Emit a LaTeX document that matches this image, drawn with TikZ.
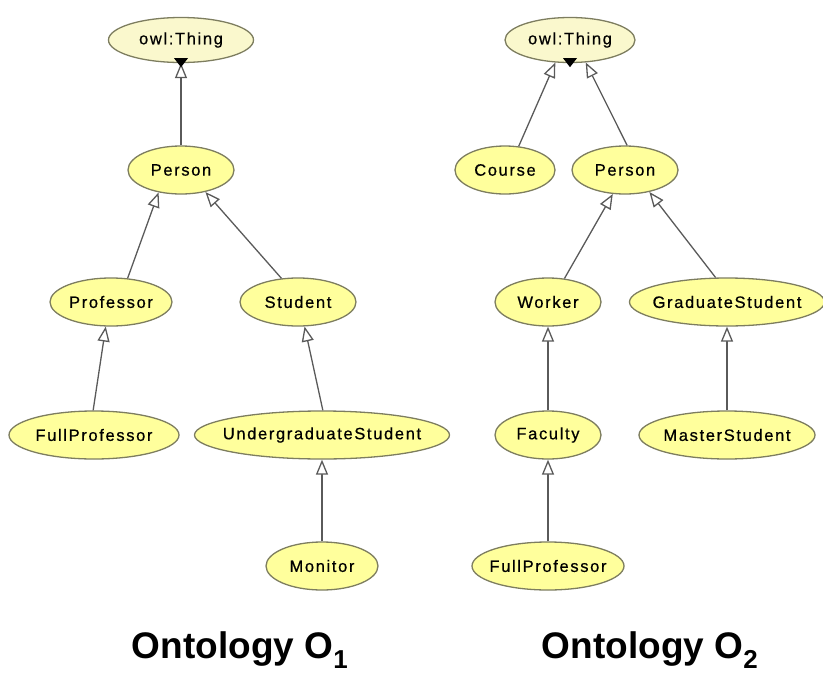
\documentclass[tikz,border=0pt]{standalone}
\usepackage{fontspec}
\setmainfont{Liberation Sans}
\newfontfamily\clsfont[LetterSpace=10, FakeBold=0.6]{Liberation Sans}
\usepackage{tikz}
\usetikzlibrary{shapes.geometric}
\usetikzlibrary{arrows.meta}

\definecolor{clsfill}{RGB}{255,255,156}
\definecolor{topfill}{RGB}{250,248,205}
\definecolor{clsline}{RGB}{125,125,95}
\definecolor{isaline}{RGB}{90,90,90}

\newcommand{\cname}[1]{\makebox[0pt]{#1}}

\tikzset{
    cls/.style={ellipse, draw=clsline, line width=1.3pt, fill=clsfill,
        inner sep=0pt, minimum height=48pt, font=\clsfont\fontsize{16.5}{19}\selectfont},
    top/.style={cls, fill=topfill, minimum height=45pt},
    isa/.style={draw=isaline, line width=1.3pt,
        -{Triangle[open, length=15pt, width=12pt, fill=white]}},
}

\begin{document}
\begin{tikzpicture}[x=1pt, y=-1pt]
    \useasboundingbox (0,0) rectangle (823,675);

    % Ontology 1
    \node[top, minimum width=145pt] (lthing) at (181,40) {\cname{owl:Thing}};
    \node[cls, minimum width=106pt] (lperson) at (181,170) {\cname{Person}};
    \node[cls, minimum width=122pt] (lprof) at (111,302) {\cname{Professor}};
    \node[cls, minimum width=116pt] (lstudent) at (298,302) {\cname{Student}};
    \node[cls, minimum width=170pt] (lfullprof) at (94,435) {\cname{FullProfessor}};
    \node[cls, minimum width=255pt] (lugrad) at (322,435) {\cname{UndergraduateStudent}};
    \node[cls, minimum width=112pt] (lmonitor) at (322,566) {\cname{Monitor}};

    \draw[isa] (lperson.north) -- (lthing.south);
    \draw[isa] (lprof.55) -- (lperson.225);
    \draw[isa] (lstudent.125) -- (lperson.318);
    \draw[isa] (lfullprof.92) -- (lprof.258);
    \draw[isa] (lugrad.88) -- (lstudent.285);
    \draw[isa] (lmonitor.north) -- (lugrad.south);

    % Ontology 2
    \node[top, minimum width=130pt] (rthing) at (570,40) {\cname{owl:Thing}};
    \node[cls, minimum width=100pt] (rcourse) at (505,170) {\cname{Course}};
    \node[cls, minimum width=106pt] (rperson) at (625,170) {\cname{Person}};
    \node[cls, minimum width=106pt] (rworker) at (548,302) {\cname{Worker}};
    \node[cls, minimum width=195pt] (rgrad) at (727,302) {\cname{GraduateStudent}};
    \node[cls, minimum width=106pt] (rfaculty) at (548,435) {\cname{Faculty}};
    \node[cls, minimum width=176pt] (rmaster) at (727,435) {\cname{MasterStudent}};
    \node[cls, minimum width=152pt] (rfullprof) at (548,566) {\cname{FullProfessor}};

    \draw[isa] (rcourse.60) -- (rthing.237);
    \draw[isa] (rperson.85) -- (rthing.305);
    \draw[isa] (rworker.55) -- (rperson.243);
    \draw[isa] (rgrad.115) -- (rperson.318);
    \draw[isa] (rfaculty.north) -- (rworker.south);
    \draw[isa] (rmaster.north) -- (rgrad.south);
    \draw[isa] (rfullprof.north) -- (rfaculty.south);

    % Markers under owl:Thing
    \foreach \t in {lthing, rthing}
        \fill ([shift={(-7pt,5pt)}]\t.south) -- ([shift={(7pt,5pt)}]\t.south) -- ([yshift=-4pt]\t.south) -- cycle;

    % Titles
    \node[font=\bfseries\fontsize{37}{40}\selectfont] (title1) at (240,650) {Ontology O$_{\mathbf 1}$};
    \node[font=\bfseries\fontsize{37}{40}\selectfont] (title2) at (650,650) {Ontology O$_{\mathbf 2}$};
\end{tikzpicture}
\end{document}
